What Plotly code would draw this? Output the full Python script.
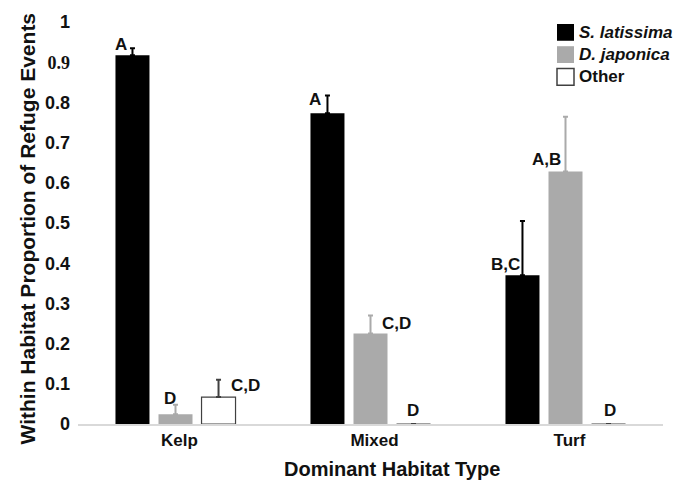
import plotly.graph_objects as go

categories = ["Kelp", "Mixed", "Turf"]
series_names = ["<i>S. latissima</i>", "<i>D. japonica</i>", "Other"]
s_latissima = [0.917, 0.773, 0.370]
d_japonica = [0.024, 0.225, 0.628]
other = [0.067, 0.0, 0.0]
err_s_latissima = [0.018, 0.044, 0.135]
err_d_japonica = [0.024, 0.045, 0.136]
err_other = [0.043, 0.0, 0.0]

# significance letters
letters_category = ["Kelp", "Kelp", "Kelp", "Mixed", "Mixed", "Mixed", "Turf", "Turf", "Turf"]
letters_text = ["A", "D", "C,D", "A", "C,D", "D", "B,C", "A,B", "D"]
letters_y = [0.943, 0.064, 0.096, 0.806, 0.251, 0.034, 0.398, 0.658, 0.034]
letters_xshift = [-54.5, -5.5, 69.5, -55.5, 25.5, 42.5, -60.5, -19.5, 44.5]

y_ticks = [0, 0.1, 0.2, 0.3, 0.4, 0.5, 0.6, 0.7, 0.8, 0.9, 1]
y_ticktext = ["0", "0.1", "0.2", "0.3", "0.4", "0.5", "0.6", "0.7", "0.8",
              "<span style='font-family:Liberation Serif'>0.9</span>", "1"]

x_title = "Dominant Habitat Type"
y_title = "Within Habitat Proportion of Refuge Events"

colors = ["#000000", "#aaaaaa", "#ffffff"]
line_colors = ["#000000", "#aaaaaa", "#404040"]
err_colors = ["#000000", "#aaaaaa", "#404040"]

FONT = "Liberation Sans, Arial, sans-serif"
TXT = "#111111"

# plot area geometry (px) used for paper-coordinate placement of legend / titles
L, R, T, B, W, H = 78, 26, 17, 60, 689, 484
PW, PH = W - L - R, H - T - B


def px_x(px):
    return (px - L) / PW


def px_y(py):
    return (H - B - py) / PH


fig = go.Figure()
vals = [s_latissima, d_japonica, other]
errs = [err_s_latissima, err_d_japonica, err_other]
for i in range(3):
    fig.add_trace(go.Bar(
        x=categories, y=vals[i], name=series_names[i], showlegend=False,
        marker=dict(color=colors[i], line=dict(color=line_colors[i], width=1.2 if i == 2 else 0)),
        error_y=dict(type="data", array=errs[i], arrayminus=[0, 0, 0], symmetric=False,
                     color=err_colors[i], thickness=2, width=2.5),
    ))

for c, t, yv, xs in zip(letters_category, letters_text, letters_y, letters_xshift):
    fig.add_annotation(x=c, y=yv, text=t, showarrow=False, xshift=xs,
                       font=dict(family=FONT, size=17, color=TXT, weight="bold"))

# manual legend
legend_cy = [27.5, 50, 72.5]
for i in range(3):
    cy = legend_cy[i]
    fig.add_shape(type="rect", xref="paper", yref="paper",
                  x0=px_x(557), x1=px_x(574), y0=px_y(cy + 8.5), y1=px_y(cy - 8.5),
                  fillcolor=colors[i],
                  line=dict(color=line_colors[i] if i == 2 else colors[i], width=1.5 if i == 2 else 0))
    fig.add_annotation(xref="paper", yref="paper", x=px_x(577), y=px_y(cy),
                       xanchor="left", yanchor="middle", text=series_names[i], showarrow=False,
                       font=dict(family=FONT, size=17, color=TXT, weight="bold"))

# axis titles (placed as in the reference)
fig.add_annotation(xref="paper", yref="paper", x=px_x(392), y=px_y(470),
                   xanchor="center", yanchor="middle", text=x_title,
                   showarrow=False, font=dict(family=FONT, size=20, color=TXT, weight="bold"))
fig.add_annotation(xref="paper", yref="paper", x=px_x(27), y=px_y(227),
                   xanchor="center", yanchor="middle", text=y_title, textangle=-90,
                   showarrow=False, font=dict(family=FONT, size=21, color=TXT, weight="bold"))

fig.update_layout(
    width=W, height=H,
    margin=dict(l=L, r=R, t=T, b=B),
    paper_bgcolor="white", plot_bgcolor="white",
    barmode="group", bargap=0.338, bargroupgap=0.21,
    font=dict(family=FONT, color=TXT, weight="bold"),
    showlegend=False,
    xaxis=dict(showline=True, linecolor="#d9d9d9", linewidth=1.5, ticks="", showgrid=False,
               ticklabelshift=4,
               tickfont=dict(family=FONT, size=17, color=TXT, weight="bold")),
    yaxis=dict(range=[0, 1], tickvals=y_ticks, ticktext=y_ticktext, showgrid=False,
               showline=False, zeroline=False, ticks="", ticklabelstandoff=7,
               tickfont=dict(family=FONT, size=18, color=TXT, weight="bold")),
)

fig.write_html("out.html")
